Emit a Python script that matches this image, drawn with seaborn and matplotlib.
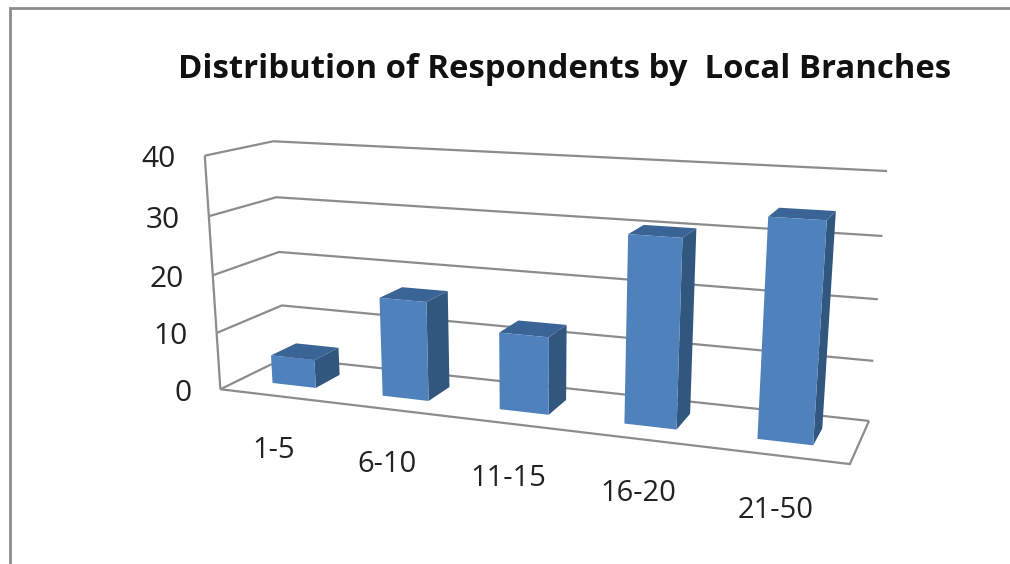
import numpy as np
import matplotlib
matplotlib.use("Agg")
import matplotlib.pyplot as plt
import seaborn as sns
from matplotlib.patches import Polygon
from matplotlib.transforms import Affine2D, Transform

categories = ["1-5", "6-10", "11-15", "16-20", "21-50"]
values = [5, 17, 13, 30.5, 34.5]
y_ticks = [0, 10, 20, 30, 40]
title = "Distribution of Respondents by  Local Branches"

FRONT = "#4F81BD"
SIDE = "#32577F"
TOP = "#3A6495"
LINE = "#8C8C8C"
TEXT = "#222222"

W, H = 1010, 564
DEPTH_FRONT, DEPTH_BACK = 0.30, 0.70
BAR_WIDTH = 0.4

# where the corners of the chart box sit in the picture (category, depth, value) -> pixel
box_corners = [
    ((0, 0, 0), (221, 389)),
    ((5, 0, 0), (850, 464)),
    ((5, 1, 0), (869, 421)),
    ((0, 1, 0), (284, 358)),
    ((0, 0, 40), (204, 156)),
    ((0, 1, 40), (274, 141)),
    ((5, 1, 40), (887, 171)),
]


def fit_camera(pairs):
    rows = []
    for (x, y, z), (u, v) in pairs:
        rows.append([x, y, z, 1, 0, 0, 0, 0, -u * x, -u * y, -u * z, -u])
        rows.append([0, 0, 0, 0, x, y, z, 1, -v * x, -v * y, -v * z, -v])
    return np.linalg.svd(np.array(rows, dtype=float))[2][-1].reshape(3, 4)


CAM = fit_camera(box_corners)


def project(x, y, z):
    p = CAM @ np.array([x, y, z, 1.0])
    return p[0] / p[2], p[1] / p[2]


class PlaneTransform(Transform):
    # maps (bar x, value) on the plane of the bar fronts to picture pixels
    input_dims = 2
    output_dims = 2

    def __init__(self, plane_depth):
        super().__init__()
        self.plane_depth = plane_depth

    def transform_non_affine(self, values):
        return np.array([project(x + 0.5, self.plane_depth, z) for x, z in values])


sns.set_theme(style="white")
plt.rcParams["font.family"] = ["Open Sans", "DejaVu Sans"]

fig = plt.figure(figsize=(W / 100, H / 100), dpi=100, facecolor="white")
ax = fig.add_axes([0, 0, 1, 1])
sns.barplot(x=categories, y=values, color=FRONT, saturation=1, width=BAR_WIDTH, ax=ax, zorder=5)
ax.set_xlim(-0.5, 4.5)
ax.set_ylim(0, 40)
ax.set_axis_off()

to_fig = Affine2D().scale(1, -1).translate(0, H)
front_tr = PlaneTransform(DEPTH_FRONT) + to_fig


def wire(points, lw=1.6):
    xs, ys = zip(*points)
    ax.plot(xs, ys, color=LINE, lw=lw, transform=to_fig, clip_on=False, zorder=1,
            solid_joinstyle="miter", solid_capstyle="butt")


# walls and floor
for t in y_ticks:
    wire([project(0, 0, t), project(0, 1, t), project(5, 1, t)])
wire([project(0, 0, 0), project(0, 0, 40)])
wire([project(0, 0, 0), project(5, 0, 0), project(5, 1, 0)])

# bars: the fronts come from seaborn, sides and tops follow from their rectangles
for bar in list(ax.patches):
    x0, x1 = bar.get_x(), bar.get_x() + bar.get_width()
    h = bar.get_height()
    bar.set_transform(front_tr)
    bar.set_clip_on(False)
    bar.set_edgecolor("none")
    a, b = x0 + 0.5, x1 + 0.5
    side = [project(b, DEPTH_FRONT, 0), project(b, DEPTH_BACK, 0),
            project(b, DEPTH_BACK, h), project(b, DEPTH_FRONT, h)]
    top = [project(a, DEPTH_FRONT, h), project(a, DEPTH_BACK, h),
           project(b, DEPTH_BACK, h), project(b, DEPTH_FRONT, h)]
    ax.add_patch(Polygon(side, closed=True, fc=SIDE, ec="none", transform=to_fig, clip_on=False, zorder=4))
    ax.add_patch(Polygon(top, closed=True, fc=TOP, ec="none", transform=to_fig, clip_on=False, zorder=4))

# labels
for t in y_ticks:
    px, py = project(0, 0, t)
    ax.text(px - 29, py + 4, str(t), ha="right", va="center", fontsize=21.5, color=TEXT, transform=to_fig)
for i, cat in enumerate(categories):
    px, py = project(i + 0.5, 0, 0)
    ax.text(px - 1, py + 55, cat, ha="center", va="center", fontsize=21, color=TEXT, transform=to_fig)

ax.text(565, 69, title, ha="center", va="center", fontsize=23.7, fontweight="bold", color="#111111", transform=to_fig)

# chart area border, cut off by the picture edge
ax.plot([10, 10, W], [H, 8, 8], color=LINE, lw=2.0, transform=to_fig, clip_on=False, solid_joinstyle="miter")

fig.savefig("out.png", dpi=100, facecolor="white")
